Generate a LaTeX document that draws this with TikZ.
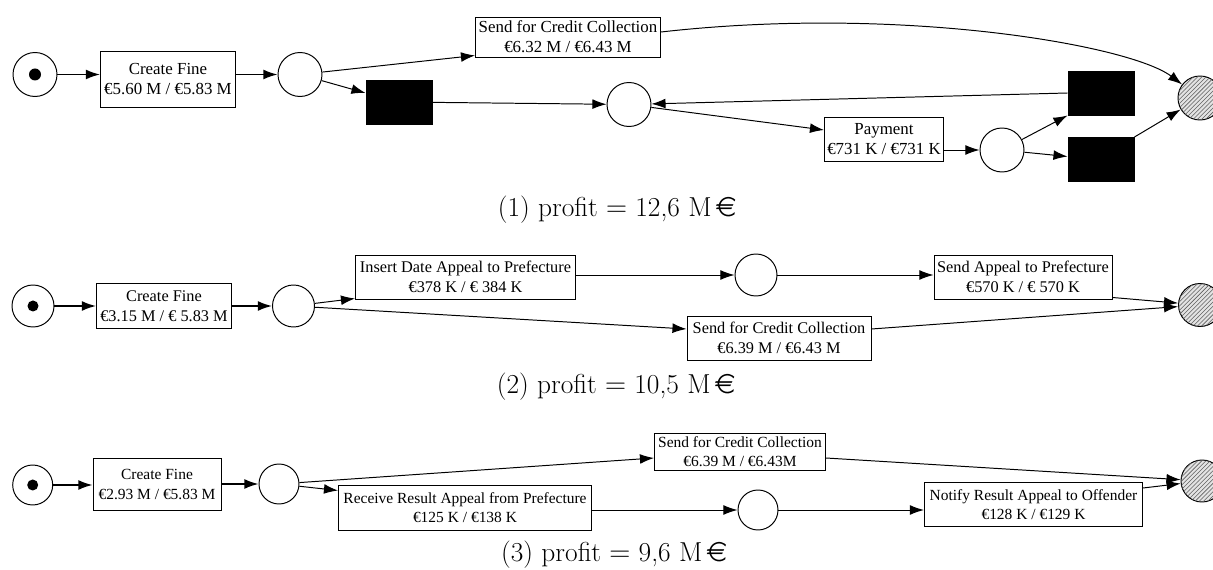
\documentclass[tikz,border=0pt]{standalone}
\usepackage{fontspec}
\usepackage{eurosym}
\newfontfamily\trfont{Liberation Serif}
\usetikzlibrary{arrows.meta, patterns}
\newcommand{\pxu}{0.025cm}

\begin{document}
\begin{tikzpicture}[
    x=\pxu, y=-\pxu, line width=0.7pt,
    place/.style={circle, draw, fill=white, minimum size=44*\pxu, inner sep=0pt},
    token/.style={circle, fill=black, minimum size=12*\pxu, inner sep=0pt},
    sink/.style={place, fill=gray!22, postaction={pattern=north east lines, pattern color=gray!75!black}},
    silent/.style={rectangle, draw, fill=black, minimum width=66*\pxu, minimum height=44*\pxu, inner sep=0pt},
    trans/.style={rectangle, draw, align=center, inner sep=1pt, font=\trfont\fontsize{12}{14.2}\selectfont},
    transb/.style={trans, font=\trfont\fontsize{11.6}{14.6}\selectfont},
    transc/.style={trans, font=\trfont\fontsize{11}{13.6}\selectfont},
    boxsize/.style 2 args={minimum width=#1*\pxu, minimum height=#2*\pxu},
    profit/.style={font=\fontsize{19.5}{23}\selectfont},
    arr/.style={-{Latex[length=10pt, width=7pt]}},
    arrb/.style={arr, line width=1.1pt}
  ]
    \useasboundingbox (0,0) rectangle (1213,570);

    % --- Net (1) ---
    \node[place] (s1) at (35,74.5) {};
    \node[token] (k1) at (s1) {};
    \node[trans, boxsize={135}{56}] (cf1) at (168,79) {Create Fine\\€5.60 M / €5.83 M};
    \node[place] (a1) at (300,74.5) {};
    \node[trans, boxsize={185}{40}] (cc1) at (568,37) {Send for Credit Collection\\€6.32 M / €6.43 M};
    \node[silent] (t1) at (399,102) {};
    \node[place] (b1) at (629,104.5) {};
    \node[trans, boxsize={119}{44}] (pay1) at (884,139) {Payment\\€731 K / €731 K};
    \node[place] (c1) at (1002,150) {};
    \node[silent] (t2) at (1101,93) {};
    \node[silent] (t3) at (1101,159.5) {};
    \node[sink] (e1) at (1200,98) {};
    \node[profit] (r1) at (617,210) {(1) profit $=$ 12,6 M\,\euro};

    \draw[arrb] (s1.east) -- (s1.east -| cf1.west);
    \draw[arrb] (a1.west -| cf1.east) -- (a1.west);
    \draw[arr] (a1) -- ([yshift=2*\pxu]cc1.south west);
    \draw[arr] (a1) -- ([yshift=9*\pxu]t1.west);
    \draw[arr] (t1) -- (b1);
    \draw[arr] (t2.west) -- (b1);
    \draw[arr] (b1) -- ([yshift=9*\pxu]pay1.west);
    \draw[arr] (c1.west -| pay1.east) -- (c1.west);
    \draw[arr] (c1) -- (t2.south west);
    \draw[arr] (c1) -- ([yshift=3*\pxu]t3.west);
    \draw[arr] (t3.north east) -- (e1);
    \draw[arr] ([yshift=5*\pxu]cc1.east) .. controls (900,5) and (1130,45) .. (e1);

    % --- Net (2) ---
    \node[place, minimum size=42*\pxu] (s2) at (33,306) {};
    \node[token, minimum size=11*\pxu] (k2) at (s2) {};
    \node[transb, boxsize={135}{45}] (cf2) at (164,306) {Create Fine\\€3.15 M / € 5.83 M};
    \node[place, minimum size=42*\pxu] (a2) at (293.5,306) {};
    \node[transb, boxsize={220}{44}] (ida) at (465.5,277) {Insert Date Appeal to Prefecture\\€378 K / € 384 K};
    \node[transb, boxsize={184}{44}] (cc2) at (779,338) {Send for Credit Collection\\€6.39 M / €6.43 M};
    \node[place, minimum size=42*\pxu] (b2) at (756,275) {};
    \node[transb, boxsize={178}{44}] (sap) at (1023,277) {Send Appeal to Prefecture\\€570 K / € 570 K};
    \node[sink, minimum size=43*\pxu] (e2) at (1200,305) {};
    \node[profit] (r2) at (616,387) {(2) profit $=$ 10,5 M\,\euro};

    \draw[arrb] (s2.east) -- (s2.east -| cf2.west);
    \draw[arrb] (a2.west -| cf2.east) -- (a2.west);
    \draw[arr] (a2) -- ([yshift=1*\pxu]ida.south west);
    \draw[arr] (a2) -- ([yshift=9*\pxu]cc2.west);
    \draw[arr] (b2.west -| ida.east) -- (b2.west);
    \draw[arr] (b2.east) -- (b2.east -| sap.west);
    \draw[arr] ([yshift=2*\pxu]sap.south east) -- (e2);
    \draw[arr] ([yshift=9*\pxu]cc2.east) -- (e2);

    % --- Net (3) ---
    \node[place, minimum size=40*\pxu] (s3) at (32.7,485) {};
    \node[token, minimum size=11*\pxu] (k3) at (s3) {};
    \node[transc, boxsize={128}{52}] (cf3) at (157,484.5) {Create Fine\\€2.93 M / €5.83 M};
    \node[place, minimum size=40*\pxu] (a3) at (279,484) {};
    \node[transc, boxsize={171}{37}] (cc3) at (740,452) {Send for Credit Collection\\€6.39 M / €6.43M};
    \node[transc, boxsize={253}{45}] (rra) at (465,507.5) {Receive Result Appeal from Prefecture\\€125 K / €138 K};
    \node[place, minimum size=40*\pxu] (b3) at (758,510) {};
    \node[transc, boxsize={218}{44}] (nra) at (1033.5,504.5) {Notify Result Appeal to Offender\\€128 K / €129 K};
    \node[sink, minimum size=42*\pxu] (e3) at (1202,481) {};
    \node[profit] (r3) at (614,555) {(3) profit $=$ 9,6 M\,\euro};

    \draw[arrb] (s3.east) -- (s3.east -| cf3.west);
    \draw[arrb] (a3.west -| cf3.east) -- (a3.west);
    \draw[arr] (a3) -- ([yshift=-6*\pxu]cc3.west);
    \draw[arr] (a3) -- ([yshift=-6*\pxu]rra.north west);
    \draw[arr] (b3.west -| rra.east) -- (b3.west);
    \draw[arr] (b3.east) -- (b3.east -| nra.west);
    \draw[arr] ([yshift=-6*\pxu]cc3.east) -- (e3);
    \draw[arr] ([yshift=-6*\pxu]nra.north east) -- (e3);

  \end{tikzpicture}
\end{document}
